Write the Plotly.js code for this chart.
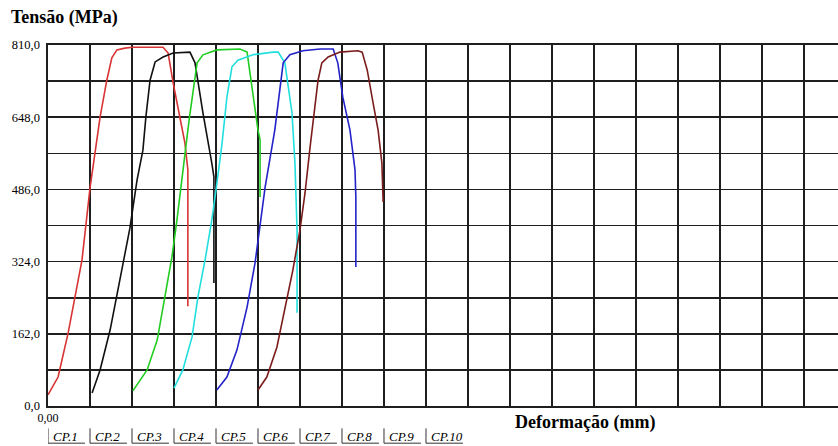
<!DOCTYPE html>
<html>
<head>
<meta charset="utf-8">
<script src="https://cdn.plot.ly/plotly-3.0.1.min.js"></script>
<style>html,body{margin:0;padding:0;background:#fff;}#chart{width:838px;height:446px;}</style>
</head>
<body>
<div id="chart"></div>
<script>
// Series names
const seriesNames = ["CP.1", "CP.2", "CP.3", "CP.4", "CP.5", "CP.6"];
const legendLabels = ["CP.1", "CP.2", "CP.3", "CP.4", "CP.5", "CP.6", "CP.7", "CP.8", "CP.9", "CP.10"];

// Deformação (mm) and Tensão (MPa)
const cp1X = [0, 0.24, 0.48, 0.81, 1.0, 1.24, 1.40, 1.52, 1.64, 1.83, 2.02, 2.74, 2.86, 2.98, 3.26, 3.33, 3.33];
const cp1Y = [25, 65, 164, 328, 489, 648, 731, 781, 799, 803, 805, 805, 792, 725, 590, 530, 224];

const cp2X = [1.05, 1.24, 1.48, 1.71, 1.95, 2.12, 2.26, 2.33, 2.43, 2.55, 2.74, 2.98, 3.38, 3.50, 3.69, 3.90, 3.95, 3.95];
const cp2Y = [29, 81, 171, 283, 399, 507, 574, 648, 731, 772, 783, 792, 794, 770, 657, 545, 514, 276];

const cp3X = [2.02, 2.36, 2.60, 2.79, 2.95, 3.07, 3.19, 3.36, 3.55, 3.69, 4.02, 4.57, 4.74, 4.88, 5.0, 5.05, 5.05];
const cp3Y = [34, 81, 148, 245, 334, 417, 507, 642, 770, 788, 799, 801, 794, 693, 619, 597, 469];

const cp4X = [3.0, 3.21, 3.43, 3.57, 3.74, 3.90, 4.0, 4.14, 4.26, 4.38, 4.52, 4.88, 5.36, 5.48, 5.64, 5.81, 5.88, 5.93, 5.93];
const cp4Y = [40, 81, 155, 245, 328, 417, 485, 586, 693, 761, 776, 788, 794, 794, 770, 657, 545, 395, 209];

const cp5X = [4.02, 4.26, 4.50, 4.74, 4.93, 5.05, 5.17, 5.40, 5.52, 5.60, 5.76, 6.07, 6.48, 6.79, 6.90, 7.02, 7.19, 7.31, 7.33, 7.33];
const cp5Y = [36, 65, 126, 222, 321, 411, 491, 619, 716, 770, 788, 797, 801, 801, 770, 693, 619, 530, 469, 312];

const cp6X = [5.0, 5.21, 5.45, 5.64, 5.83, 6.0, 6.12, 6.24, 6.43, 6.52, 6.67, 6.95, 7.38, 7.48, 7.60, 7.74, 7.86, 7.95, 7.98];
const cp6Y = [36, 65, 132, 215, 305, 395, 478, 581, 731, 770, 783, 794, 797, 794, 754, 680, 619, 545, 458];

// Axis ticks
const yTickVals = [0, 81, 162, 243, 324, 405, 486, 567, 648, 729, 810];
const yTickText = ["0,0", "", "162,0", "", "324,0", "", "486,0", "", "648,0", "", "810,0"];
const xTickVals = [0,1,2,3,4,5,6,7,8,9,10,11,12,13,14,15,16,17,18];
const xTickText = ["0,00","","","","","","","","","","","","","","","","","",""];

const colors = ["#d83434", "#111111", "#22cc22", "#22dede", "#2323c8", "#7a1c1c"];
const xs = [cp1X, cp2X, cp3X, cp4X, cp5X, cp6X];
const ys = [cp1Y, cp2Y, cp3Y, cp4Y, cp5Y, cp6Y];

const traces = seriesNames.map((n, i) => ({
  type: "scatter", mode: "lines", name: n,
  x: xs[i], y: ys[i],
  line: {color: colors[i], width: 1.6},
  showlegend: false, hoverinfo: "skip"
}));

const font = '"Liberation Serif", serif';

const annotations = [
  {text: "<b>Tensão (MPa)</b>", xref: "paper", yref: "paper", x: -0.05, y: 1.075,
   xanchor: "left", yanchor: "middle", showarrow: false, font: {family: font, size: 18, color: "#000"}},
  {text: "<b>Deformação (mm)</b>", xref: "paper", yref: "paper", x: 0.68, y: -0.045,
   xanchor: "center", yanchor: "middle", showarrow: false, font: {family: font, size: 18, color: "#000"}}
];
const shapes = [];
legendLabels.forEach((t, k) => {
  annotations.push({text: "<i>" + t + "</i>", xref: "x", yref: "paper", x: k, xshift: 3, y: -0.085,
    xanchor: "left", yanchor: "middle", showarrow: false, font: {family: font, size: 13, color: "#000"}});
  shapes.push({type: "path", xref: "x", yref: "paper",
    path: "M " + k + ",-0.062 L " + k + ",-0.103 L " + (k + 0.88) + ",-0.103",
    line: {color: "#333", width: 1}});
});

const layout = {
  width: 838, height: 446,
  margin: {l: 48, r: 0, t: 45, b: 40},
  paper_bgcolor: "#fff", plot_bgcolor: "#fff",
  font: {family: font, color: "#000"},
  xaxis: {range: [0, 18.81], tickmode: "array", tickvals: xTickVals, ticktext: xTickText,
    showgrid: true, gridcolor: "#1e1e1e", gridwidth: 1.6, zeroline: false,
    showline: true, linecolor: "#1e1e1e", linewidth: 1.6, mirror: true,
    ticks: "", tickfont: {family: font, size: 12, color: "#000"}, fixedrange: true},
  yaxis: {range: [0, 810], tickmode: "array", tickvals: yTickVals, ticktext: yTickText,
    showgrid: true, gridcolor: "#1e1e1e", gridwidth: 1.6, zeroline: false,
    showline: true, linecolor: "#1e1e1e", linewidth: 1.6,
    ticks: "", ticklabelstandoff: 4, tickfont: {family: font, size: 12.5, color: "#000"}, fixedrange: true},
  annotations: annotations,
  shapes: shapes,
  showlegend: false
};

Plotly.newPlot("chart", traces, layout, {displayModeBar: false, staticPlot: true});
</script>
</body>
</html>
